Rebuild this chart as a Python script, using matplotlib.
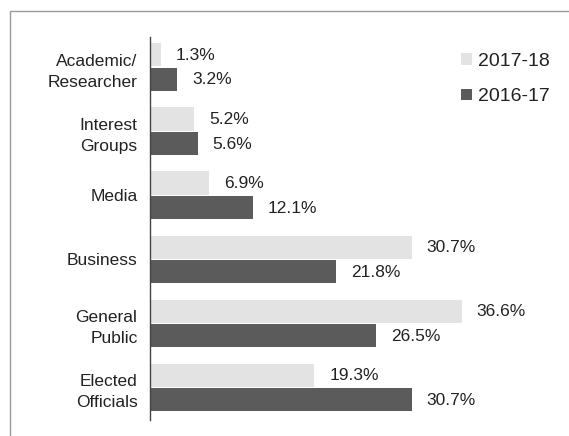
import matplotlib
matplotlib.use("Agg")
import matplotlib.pyplot as plt
from matplotlib.patches import Rectangle
import numpy as np

categories = ["Academic/\nResearcher", "Interest\nGroups", "Media", "Business",
              "General\nPublic", "Elected\nOfficials"]
values_1718 = [1.3, 5.2, 6.9, 30.7, 36.6, 19.3]
values_1617 = [3.2, 5.6, 12.1, 21.8, 26.5, 30.7]
series_labels = ["2017-18", "2016-17"]

LIGHT = "#e3e3e3"
DARK = "#5b5b5b"
TEXT = "#222222"

plt.rcParams["font.family"] = ["Liberation Sans", "DejaVu Sans"]

W, H = 569, 436
fig = plt.figure(figsize=(W / 100, H / 100), dpi=100)
fig.patch.set_facecolor("white")

# outer frame (extends past right and bottom edges)
fig.patches.append(Rectangle((10 / W, -0.1), 1.2, 1 - 11 / H + 0.1,
                             transform=fig.transFigure, fill=False,
                             edgecolor="#9a9a9a", linewidth=1.0))

left_px, right_px, top_px, bottom_px = 150, 566, 37, 420
ax = fig.add_axes([left_px / W, 1 - bottom_px / H,
                   (right_px - left_px) / W, (bottom_px - top_px) / H])

y = np.arange(len(categories))
h = 0.36
off = 0.19
b1 = ax.barh(y - off, values_1718, height=h, color=LIGHT, label=series_labels[0])
b2 = ax.barh(y + off, values_1617, height=h, color=DARK, label=series_labels[1])

px_per_unit = 8.52
ax.set_xlim(0, (right_px - left_px) / px_per_unit)
ax.set_ylim(5.51, -0.47)

for bars, vals in ((b1, values_1718), (b2, values_1617)):
    for rect, v in zip(bars, vals):
        ax.annotate(f"{v}%", (v, rect.get_y() + rect.get_height() / 2),
                    xytext=(10.8, -0.5), textcoords="offset points",
                    ha="left", va="center", fontsize=12.5, color=TEXT)

ax.set_yticks(y)
ax.set_yticklabels(categories, fontsize=12.5, color=TEXT, linespacing=1.55)
ax.tick_params(axis="y", length=0, pad=9)
ax.set_xticks([])
for s in ("top", "right", "bottom"):
    ax.spines[s].set_visible(False)
ax.spines["left"].set_color("#444444")
ax.spines["left"].set_linewidth(1.0)

leg = ax.legend(handles=[b1, b2], loc="upper left",
                bbox_to_anchor=((461 - left_px) / (right_px - left_px),
                                1 - (53 - top_px) / (bottom_px - top_px)),
                frameon=False, fontsize=14, handlelength=0.55, handleheight=0.55,
                handletextpad=0.3, labelspacing=0.95, borderpad=0, borderaxespad=0)
for t in leg.get_texts():
    t.set_color(TEXT)

fig.savefig("out.png", dpi=100, facecolor="white")
